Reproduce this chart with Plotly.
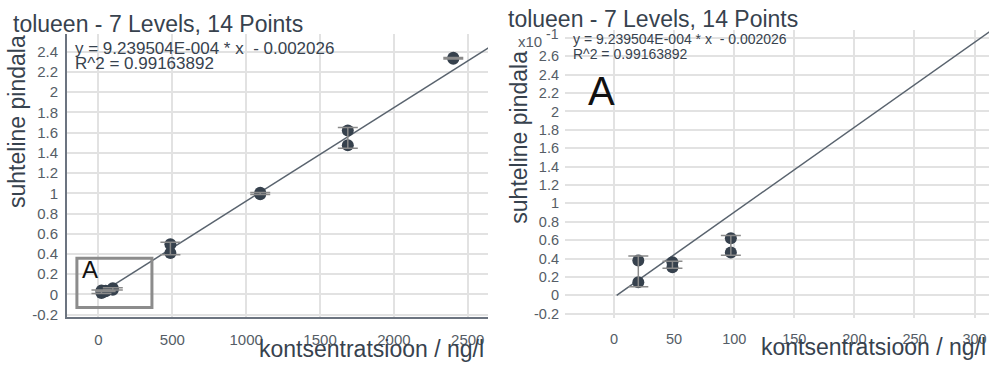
import numpy as np
import plotly.graph_objects as go

# Calibration data: 7 concentration levels, 2 replicate injections each
level_conc = [20.2, 48.6, 97.2, 487.0, 1095.0, 1688.0, 2402.0]   # ng/l
rep_a = [0.0142, 0.0305, 0.0467, 0.410, 0.990, 1.475, 2.330]     # relative area
rep_b = [0.0378, 0.0360, 0.0620, 0.497, 1.005, 1.620, 2.340]

slope = 9.239504E-004
intercept = -0.002026
r_squared = 0.99163892

title_text = "tolueen - 7 Levels, 14 Points"
y_title = "suhteline pindala"
x_title = "kontsentratsioon / ng/l"

left_xticks = [0, 500, 1000, 1500, 2000, 2500]
left_yticks = [-0.2, 0, 0.2, 0.4, 0.6, 0.8, 1, 1.2, 1.4, 1.6, 1.8, 2, 2.2, 2.4]
right_xticks = [0, 50, 100, 150, 200, 250, 300]
right_yticks = [-0.02, 0, 0.02, 0.04, 0.06, 0.08, 0.10, 0.12, 0.14, 0.16,
                0.18, 0.20, 0.22, 0.24, 0.26]
right_top_grid = 0.28   # gridline whose label slot holds the x10^-1 multiplier

W, H = 989, 365
TXT = "#37424e"
TICK = "#555d66"
MARK = "#36414d"
GRID = "#e2e2e2"
FONT = "Liberation Sans, Arial, sans-serif"


def px(x):
    return x / W


def py(y):
    return 1 - y / H


xs = np.repeat(level_conc, 2)
ys = np.ravel(np.column_stack([rep_a, rep_b]))
means = (np.array(rep_a) + np.array(rep_b)) / 2
sds = np.std(np.column_stack([rep_a, rep_b]), axis=1, ddof=1)

x0_line = -intercept / slope
fig = go.Figure()

for xa, ya, xmax in (("x", "y", 2700), ("x2", "y2", 330)):
    lx = np.array([x0_line, xmax])
    fig.add_trace(go.Scatter(x=lx, y=slope * lx + intercept, mode="lines",
                             line=dict(color="#59636e", width=1.5),
                             xaxis=xa, yaxis=ya, hoverinfo="skip"))
    fig.add_trace(go.Scatter(x=xs, y=ys, mode="markers",
                             marker=dict(size=12, color=MARK),
                             xaxis=xa, yaxis=ya))
    fig.add_trace(go.Scatter(x=level_conc, y=means, mode="markers",
                             marker=dict(size=1, color="rgba(0,0,0,0)"),
                             error_y=dict(type="data", array=sds, visible=True,
                                          color="#8a8a8a", thickness=1.5, width=10),
                             xaxis=xa, yaxis=ya))

grid = dict(showgrid=True, gridcolor=GRID, gridwidth=2, zeroline=False,
            tickfont=dict(size=15, color=TICK, family=FONT), ticks="")

fig.update_layout(
    width=W, height=H, margin=dict(l=0, r=0, t=0, b=0),
    paper_bgcolor="white", plot_bgcolor="white", showlegend=False,
    font=dict(family=FONT, color=TXT),
    xaxis=dict(domain=[px(67), px(488)], range=[-213, 2637],
               tickvals=left_xticks, ticktext=[str(v) for v in left_xticks],
               showline=True, linecolor="#6c7480", linewidth=2,
               ticklabelstandoff=8, anchor="y", **grid),
    yaxis=dict(domain=[py(322), py(35)], range=[-0.22, 2.57],
               tickvals=left_yticks, ticktext=[f"{v:g}" for v in left_yticks],
               showline=True, linecolor="#6c7480", linewidth=2,
               ticklabelstandoff=4, anchor="x", **grid),
    xaxis2=dict(domain=[px(565), 1.0], range=[-40.8, 312],
                tickvals=right_xticks, ticktext=[str(v) for v in right_xticks],
                showline=False, ticklabelstandoff=11, anchor="y2", **grid),
    yaxis2=dict(domain=[py(323), py(30)], range=[-0.0243, 0.2891],
                tickvals=right_yticks,
                ticktext=[f"{v * 10:g}" for v in right_yticks],
                showline=False, ticklabelstandoff=5, anchor="x2", **grid),
)
fig.update_xaxes(tickfont=dict(size=14.5), selector=dict(anchor="y2"))
fig.update_yaxes(tickfont=dict(size=14.5), selector=dict(anchor="x2"))

# Top gridline of the zoomed panel (its label position carries the multiplier)
fig.add_shape(type="line", xref="x2 domain", yref="y2", x0=0, x1=1,
              y0=right_top_grid, y1=right_top_grid, layer="below",
              line=dict(color=GRID, width=2))

# Zoom-region box on the full-range panel
fig.add_shape(type="rect", xref="x", yref="y", x0=-146, x1=362, y0=-0.13, y1=0.358,
              line=dict(color="#8c8c8c", width=3), fillcolor="rgba(0,0,0,0)")

eq1 = f"y = {slope:.6E}".replace("E-04", "E-004") + " * x\u00a0\u00a0- " + f"{-intercept:.6f}"
eq2 = f"R^2 = {r_squared:.8f}"

ann = []


def add_text(text, x, y, size, color=TXT, xanchor="left", angle=0):
    ann.append(dict(text=text, x=px(x), y=py(y), xref="paper", yref="paper",
                    showarrow=False, xanchor=xanchor, yanchor="middle",
                    textangle=angle, font=dict(size=size, color=color, family=FONT)))


add_text(title_text, 11, 24, 23)
add_text(title_text, 506, 19, 23)
add_text(eq1, 73, 49, 17)
add_text(eq2, 73, 65, 17)
add_text(eq1, 571, 40, 14)
add_text(eq2, 571, 55, 14)
add_text("x10", 516, 42, 15, color=TICK)
add_text("-1", 544, 35, 14, color=TICK)
add_text("A", 80, 274, 24, color="#111111")
add_text("A", 586, 93, 40, color="#111111")
add_text(y_title, 17, 124, 23, xanchor="center", angle=-90)
add_text(y_title, 519, 140, 23, xanchor="center", angle=-90)
add_text(x_title, 486, 355, 23, xanchor="right")
add_text(x_title, 988, 353, 23, xanchor="right")
fig.update_layout(annotations=ann)

fig.write_html("out.html")
